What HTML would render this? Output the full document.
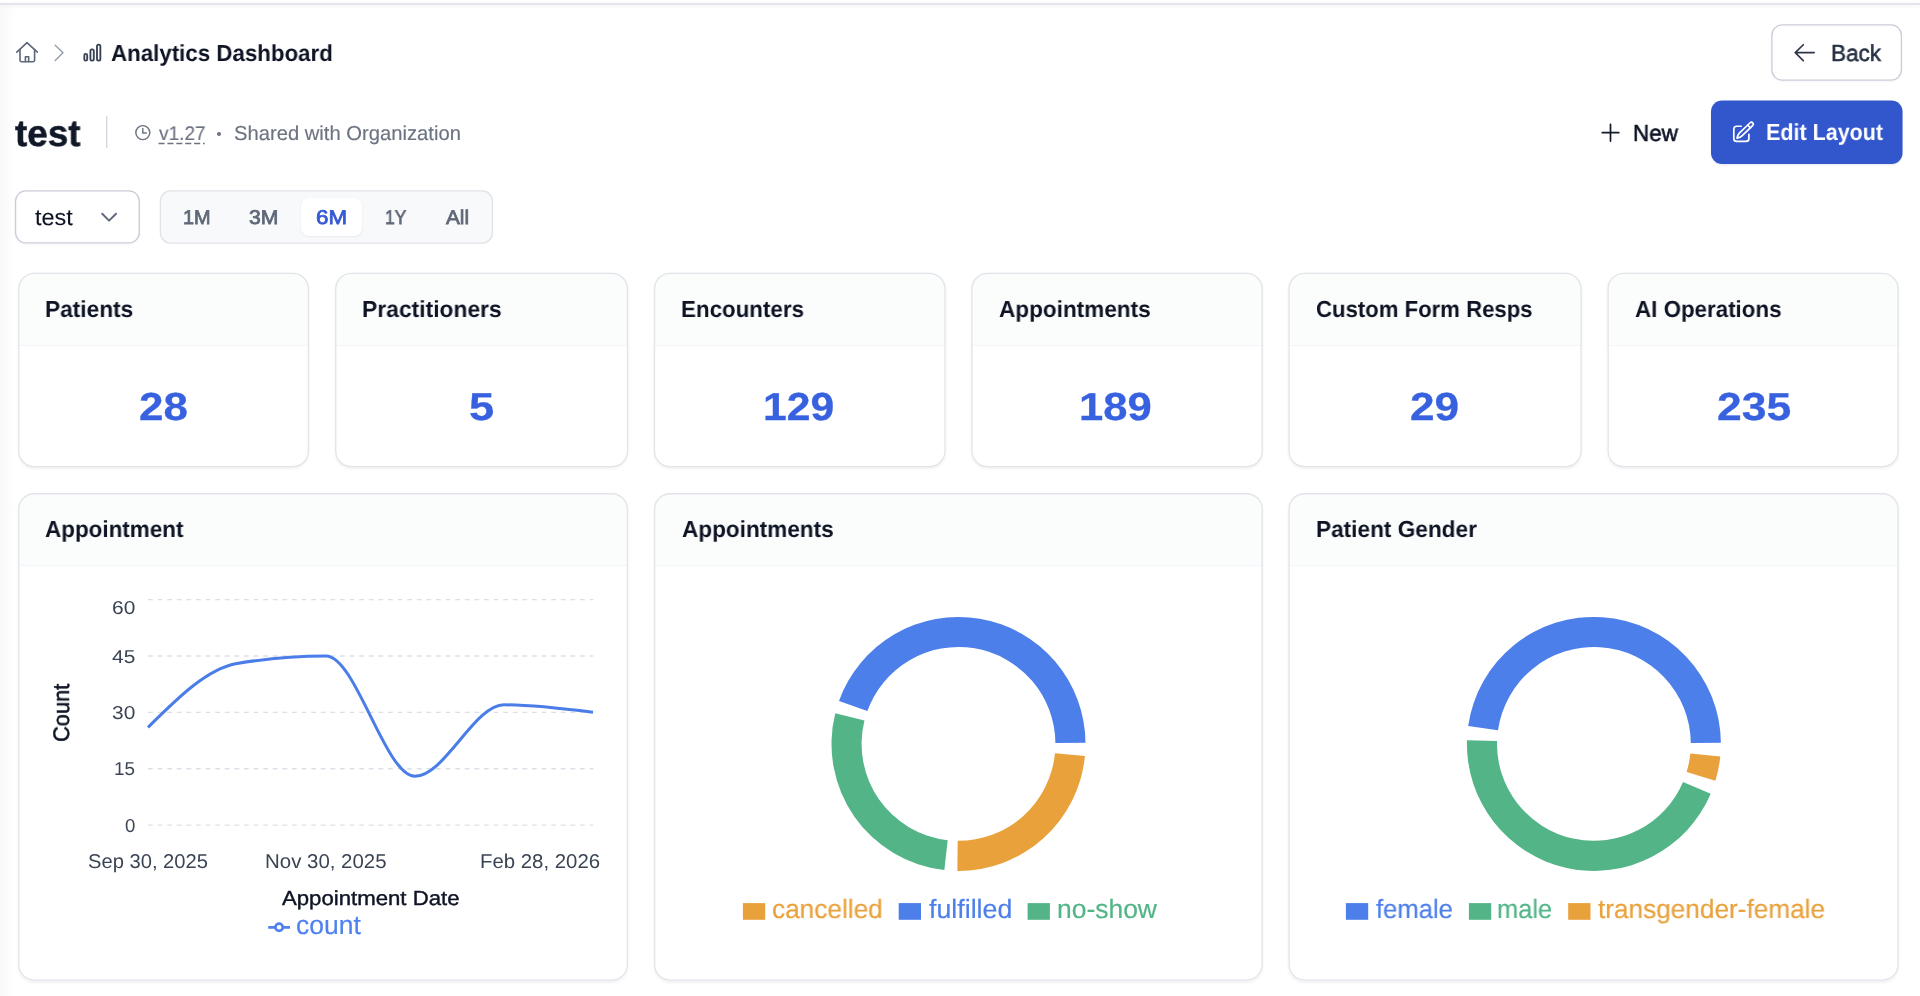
<!DOCTYPE html>
<html lang="en">
<head>
<meta charset="utf-8">
<title>Analytics Dashboard</title>
<style>
*{box-sizing:border-box}
html,body{margin:0;padding:0}
body{width:1920px;height:996px;position:relative;overflow:hidden;background:#fff;font-family:"Liberation Sans",sans-serif}
.topline{position:absolute;left:0;top:2.8px;width:1920px;height:2.1px;background:#e4e5eb;box-shadow:0 1px 4px rgba(15,23,42,.07)}
.leftshade{position:absolute;left:0;top:5px;width:16px;height:991px;background:linear-gradient(to right,rgba(0,0,0,.024),rgba(0,0,0,.014) 40%,rgba(0,0,0,0))}
.t{position:absolute;white-space:nowrap;line-height:1;transform-origin:0 0;display:block;margin:0;padding:0;z-index:3;will-change:transform;text-rendering:geometricPrecision}
.card{position:absolute;background:#fff;border-radius:16.3px;box-shadow:0 1.3px 2.7px rgba(15,23,42,.055);overflow:hidden}
.ch{height:73.2px;background:#fbfcfc;border-bottom:1.4px solid #f4f5f8}
.btn{border-radius:11px;background:#fff}
.back,.edit,.select,.seg{position:absolute}
.new{background:none}
.back{left:1771.2px;top:24.2px;width:130.9px;height:56.6px;box-shadow:0 1px 2px rgba(15,23,42,.04)}
.edit{left:1712px;top:101.6px;width:189.6px;height:61.6px;background:#3257cd;box-shadow:0 1.5px 2.5px rgba(15,23,42,.10)}
.select{left:14.9px;top:190.2px;width:125px;height:53.4px;box-shadow:0 1px 2px rgba(15,23,42,.04)}
.seg{left:159.75px;top:190.3px;width:333.35px;height:53.45px;background:#f8f9fb}
.pill{position:absolute;left:301px;top:197.8px;width:61px;height:38.1px;border-radius:8px;background:#fff;box-shadow:0 1px 2.5px rgba(15,23,42,.07)}
.dot{position:absolute;left:216.7px;top:131.9px;width:4.2px;height:4.2px;border-radius:50%;background:#6b7280}
svg.ov{position:absolute;left:0;top:0;width:1920px;height:996px;pointer-events:none}
</style>
</head>
<body>
<div class="topline"></div>
<div class="leftshade"></div>

<header>
  <nav aria-label="Breadcrumb"><span class="t" style="left:111.10px;top:41.60px;font-size:23.2px;font-weight:700;color:#0e1424;transform:scaleX(0.9617)">Analytics Dashboard</span></nav>
  <div class="btn back" role="button"><span class="t" style="left:59.35px;top:17.50px;font-size:23.1px;font-weight:400;color:#273043;-webkit-text-stroke:0.55px #273043;transform:scaleX(0.9735)">Back</span></div>
  <h1 class="t" style="left:14.65px;top:115.25px;font-size:37px;font-weight:700;color:#111827;-webkit-text-stroke:0.5px #111827;transform:scaleX(0.9942)">test</h1>
  <span class="t" style="left:158.82px;top:124.80px;font-size:19.8px;font-weight:400;color:#6b7280;-webkit-text-stroke:0.15px #6b7280;transform:scaleX(0.9601)">v1.27</span>
  <div class="dot"></div>
  <span class="t" style="left:234.07px;top:123.90px;font-size:20.2px;font-weight:400;color:#6b7280;-webkit-text-stroke:0.15px #6b7280;transform:scaleX(1.0009)">Shared with Organization</span>
  <div class="btn new" role="button"><span class="t" style="left:1633.33px;top:121.50px;font-size:23.1px;font-weight:400;color:#0e1424;-webkit-text-stroke:0.6px #0e1424;transform:scaleX(0.9710)">New</span></div>
  <div class="btn edit" role="button"><span class="t" style="left:53.88px;top:19.90px;font-size:23.3px;font-weight:700;color:#ffffff;transform:scaleX(0.9232)">Edit Layout</span></div>
  <div class="btn select" role="combobox"><span class="t" style="left:20.55px;top:16.50px;font-size:22.6px;font-weight:400;color:#0e1424;-webkit-text-stroke:0.1px #0e1424;transform:scaleX(1.0366)">test</span></div>
  <div class="btn seg" role="tablist"></div>
  <div class="pill"></div>
  <span class="t" style="left:183.12px;top:209.00px;font-size:19.9px;font-weight:400;color:#5f6878;-webkit-text-stroke:0.75px #5f6878;transform:scaleX(1.0015)">1M</span><span class="t" style="left:249.38px;top:209.00px;font-size:19.9px;font-weight:400;color:#5f6878;-webkit-text-stroke:0.75px #5f6878;transform:scaleX(1.0648)">3M</span><span class="t" style="left:315.75px;top:209.00px;font-size:19.9px;font-weight:400;color:#3659d4;-webkit-text-stroke:0.75px #3659d4;transform:scaleX(1.1232)">6M</span><span class="t" style="left:384.50px;top:209.00px;font-size:19.9px;font-weight:400;color:#5f6878;-webkit-text-stroke:0.75px #5f6878;transform:scaleX(0.8781)">1Y</span><span class="t" style="left:446.27px;top:209.00px;font-size:19.9px;font-weight:400;color:#5f6878;-webkit-text-stroke:0.75px #5f6878;transform:scaleX(1.0445)">All</span>
</header>

<main>
<article class="card stat" aria-label="Patients" style="left:18.09px;top:272.77px;width:291.02px;height:194.45px"><div class="ch"></div><h3 class="t" style="left:26.84px;top:25.53px;font-size:23.2px;font-weight:700;color:#0e1424;transform:scaleX(0.9784)">Patients</h3><span class="t" style="left:120.74px;top:115.53px;font-size:39px;font-weight:700;color:#3761df;-webkit-text-stroke:0.3px #3761df;transform:scaleX(1.1250)">28</span></article>
<article class="card stat" aria-label="Practitioners" style="left:335.08px;top:272.77px;width:293.08px;height:194.45px"><div class="ch"></div><h3 class="t" style="left:26.53px;top:25.53px;font-size:23.2px;font-weight:700;color:#0e1424;transform:scaleX(0.9860)">Practitioners</h3><span class="t" style="left:133.90px;top:115.53px;font-size:39px;font-weight:700;color:#3761df;-webkit-text-stroke:0.3px #3761df;transform:scaleX(1.1600)">5</span></article>
<article class="card stat" aria-label="Encounters" style="left:653.84px;top:272.77px;width:291.83px;height:194.45px"><div class="ch"></div><h3 class="t" style="left:26.80px;top:25.53px;font-size:23.2px;font-weight:700;color:#0e1424;transform:scaleX(0.9637)">Encounters</h3><span class="t" style="left:109.13px;top:115.53px;font-size:39px;font-weight:700;color:#3761df;-webkit-text-stroke:0.3px #3761df;transform:scaleX(1.0933)">129</span></article>
<article class="card stat" aria-label="Appointments" style="left:971.34px;top:272.77px;width:291.53px;height:194.45px"><div class="ch"></div><h3 class="t" style="left:27.37px;top:25.53px;font-size:23.2px;font-weight:700;color:#0e1424;transform:scaleX(0.9731)">Appointments</h3><span class="t" style="left:108.08px;top:115.53px;font-size:39px;font-weight:700;color:#3761df;-webkit-text-stroke:0.3px #3761df;transform:scaleX(1.1173)">189</span></article>
<article class="card stat" aria-label="Custom Form Resps" style="left:1288.39px;top:272.77px;width:293.33px;height:194.45px"><div class="ch"></div><h3 class="t" style="left:27.40px;top:25.53px;font-size:23.2px;font-weight:700;color:#0e1424;transform:scaleX(0.9550)">Custom Form Resps</h3><span class="t" style="left:121.62px;top:115.53px;font-size:39px;font-weight:700;color:#3761df;-webkit-text-stroke:0.3px #3761df;transform:scaleX(1.1322)">29</span></article>
<article class="card stat" aria-label="AI Operations" style="left:1607.43px;top:272.77px;width:291.33px;height:194.45px"><div class="ch"></div><h3 class="t" style="left:27.77px;top:25.53px;font-size:23.2px;font-weight:700;color:#0e1424;transform:scaleX(0.9634)">AI Operations</h3><span class="t" style="left:109.08px;top:115.53px;font-size:39px;font-weight:700;color:#3761df;-webkit-text-stroke:0.3px #3761df;transform:scaleX(1.1392)">235</span></article>
<article class="card chart" aria-label="Appointment" style="left:18.09px;top:493.08px;width:609.98px;height:487.64px"><div class="ch"></div><h3 class="t" style="left:27.41px;top:25.42px;font-size:23.2px;font-weight:700;color:#0e1424;transform:scaleX(0.9683)">Appointment</h3><span class="t" style="left:93.91px;top:105.81px;font-size:18.6px;font-weight:400;color:#3b4454;transform:scaleX(1.1258)">60</span><span class="t" style="left:93.91px;top:154.62px;font-size:18.6px;font-weight:400;color:#3b4454;transform:scaleX(1.1258)">45</span><span class="t" style="left:93.91px;top:211.02px;font-size:18.6px;font-weight:400;color:#3b4454;transform:scaleX(1.1258)">30</span><span class="t" style="left:96.20px;top:267.31px;font-size:18.6px;font-weight:400;color:#3b4454;transform:scaleX(1.0134)">15</span><span class="t" style="left:106.81px;top:323.71px;font-size:18.6px;font-weight:400;color:#3b4454;transform:scaleX(1.0000)">0</span><span class="t" style="left:70.01px;top:359.62px;font-size:19.9px;font-weight:400;color:#3b4454;transform:scaleX(1.0137)">Sep 30, 2025</span><span class="t" style="left:246.89px;top:359.62px;font-size:19.9px;font-weight:400;color:#3b4454;transform:scaleX(1.0276)">Nov 30, 2025</span><span class="t" style="left:462.09px;top:359.62px;font-size:19.9px;font-weight:400;color:#3b4454;transform:scaleX(1.0244)">Feb 28, 2026</span><span class="t" style="left:264.01px;top:395.52px;font-size:20.3px;font-weight:400;color:#0e1424;-webkit-text-stroke:0.4px #0e1424;transform:scaleX(1.0934)">Appointment Date</span><span class="t" style="left:278.41px;top:419.31px;font-size:26.4px;font-weight:400;color:#4f82f0;-webkit-text-stroke:0.2px #4f82f0;transform:scaleX(1.0043)">count</span><span class="t" style="left:50.82px;top:248.31px;font-size:22.6px;font-weight:400;color:#0e1424;-webkit-text-stroke:0.55px #0e1424;transform:rotate(-90deg) scaleX(0.9656) translate(-1.00px,-18.00px)">Count</span></article>
<article class="card chart" aria-label="Appointments" style="left:653.94px;top:493.08px;width:608.93px;height:487.64px"><div class="ch"></div><h3 class="t" style="left:27.66px;top:25.42px;font-size:23.2px;font-weight:700;color:#0e1424;transform:scaleX(0.9731)">Appointments</h3><span class="t" style="left:118.07px;top:402.62px;font-size:26.4px;font-weight:400;color:#e9a13b;-webkit-text-stroke:0.2px #e9a13b;transform:scaleX(0.9933)">cancelled</span><span class="t" style="left:274.87px;top:402.62px;font-size:26.4px;font-weight:400;color:#4c7fea;-webkit-text-stroke:0.2px #4c7fea;transform:scaleX(1.0140)">fulfilled</span><span class="t" style="left:402.76px;top:402.62px;font-size:26.4px;font-weight:400;color:#53b587;-webkit-text-stroke:0.2px #53b587;transform:scaleX(1.0021)">no-show</span></article>
<article class="card chart" aria-label="Patient Gender" style="left:1288.39px;top:493.08px;width:610.37px;height:487.64px"><div class="ch"></div><h3 class="t" style="left:27.23px;top:25.42px;font-size:23.2px;font-weight:700;color:#0e1424;transform:scaleX(0.9756)">Patient Gender</h3><span class="t" style="left:87.30px;top:402.62px;font-size:26.4px;font-weight:400;color:#4c7fea;-webkit-text-stroke:0.2px #4c7fea;transform:scaleX(0.9703)">female</span><span class="t" style="left:208.84px;top:402.62px;font-size:26.4px;font-weight:400;color:#53b587;-webkit-text-stroke:0.2px #53b587;transform:scaleX(0.9635)">male</span><span class="t" style="left:310.00px;top:402.62px;font-size:26.4px;font-weight:400;color:#e9a13b;-webkit-text-stroke:0.2px #e9a13b;transform:scaleX(0.9918)">transgender-female</span></article>
</main>

<svg class="ov" viewBox="0 0 1920 996" fill="none" stroke-linecap="round" stroke-linejoin="round">
  <!-- card + control borders -->
  <g stroke="#e2e4ea" stroke-width="1.33"><rect x="18.75" y="273.44" width="289.69" height="193.12" rx="15.6"/><rect x="335.75" y="273.44" width="291.75" height="193.12" rx="15.6"/><rect x="654.50" y="273.44" width="290.50" height="193.12" rx="15.6"/><rect x="972.00" y="273.44" width="290.20" height="193.12" rx="15.6"/><rect x="1289.06" y="273.44" width="292.00" height="193.12" rx="15.6"/><rect x="1608.10" y="273.44" width="290.00" height="193.12" rx="15.6"/><rect x="18.75" y="493.75" width="608.65" height="486.31" rx="15.6"/><rect x="654.60" y="493.75" width="607.60" height="486.31" rx="15.6"/><rect x="1289.06" y="493.75" width="609.04" height="486.31" rx="15.6"/></g>
  <g stroke-width="1.33">
    <rect x="1771.9" y="24.85" width="129.5" height="55.3" rx="10.4" stroke="#c9cdd8"/>
    <rect x="15.55" y="190.85" width="123.7" height="52.1" rx="10.4" stroke="#c9cdd8"/>
    <rect x="160.4" y="190.95" width="332.05" height="52.15" rx="10.4" stroke="#e1e3e9"/>
  </g>
  <rect x="1711" y="100.6" width="191.55" height="63.4" rx="11" fill="#3257cd" stroke="none"/>
  <!-- home icon -->
  <g stroke="#5d6678" stroke-width="1.6">
    <path d="M16.8,52.2L27,42.7L37.3,52.2"/>
    <path d="M20,49.6V60.1a1.6,1.6,0,0,0,1.6,1.6H33a1.6,1.6,0,0,0,1.6,-1.6V49.6"/>
    <path d="M25.4,61.5V56.7H28.7V61.5"/>
  </g>
  <!-- chevron -->
  <path d="M55.2,45.2L63,52.8L55.2,60.4" stroke="#949cad" stroke-width="1.4"/>
  <!-- bar chart icon -->
  <g stroke="#3a4355" stroke-width="1.85">
    <rect x="84.3" y="53.9" width="2.9" height="6.7" rx="1.45"/>
    <rect x="90.4" y="49.3" width="3.4" height="11.3" rx="1.6"/>
    <rect x="97" y="44.6" width="3.35" height="16" rx="1.6"/>
  </g>
  <!-- back arrow -->
  <path d="M1814.2,52.6H1795.2M1803.3,44.7L1795.2,52.6L1803.3,60.6" stroke="#2c3547" stroke-width="1.6"/>
  <!-- title divider + dashed underline -->
  <path d="M106.65,116.3V148.1" stroke="#d3d6de" stroke-width="1.4" stroke-linecap="butt"/>
  <path d="M158.5,143.55H204.7" stroke="#6b7280" stroke-width="1.4" stroke-dasharray="6.1 2.8" stroke-linecap="butt"/>
  <!-- clock -->
  <g stroke="#6b7280" stroke-width="1.45">
    <circle cx="142.8" cy="132.6" r="7"/>
    <path d="M142.8,128.4V132.9H146.3"/>
  </g>
  <!-- plus -->
  <path d="M1602.3,132.7H1618.8M1610.5,124.3V141.1" stroke="#111827" stroke-width="1.7"/>
  <!-- pencil/edit icon -->
  <g stroke="#fff" stroke-width="1.7">
    <path d="M1741.2,126.25H1736.8a3,3,0,0,0,-3,3V138.4a3,3,0,0,0,3,3H1745.9a3,3,0,0,0,3,-3V134.3"/>
    <path d="M1750.16,122.76L1739.56,132.96Q1737.8,134.7,1737,138.2Q1740.5,137.4,1742.24,135.64L1752.84,125.44A1.9,1.9,0,0,0,1750.16,122.76Z"/>
    <path d="M1747.76,125.16L1750.44,127.84"/>
  </g>
  <!-- select chevron -->
  <path d="M102.2,213.7L109.1,220.6L116,213.7" stroke="#5f6779" stroke-width="1.95"/>

  <!-- line chart -->
  <g stroke="#dddfe6" stroke-width="1.4" stroke-dasharray="4.8 4.8" stroke-linecap="butt"><line x1="148" x2="593.3" y1="825.10" y2="825.10"/><line x1="148" x2="593.3" y1="768.73" y2="768.73"/><line x1="148" x2="593.3" y1="712.35" y2="712.35"/><line x1="148" x2="593.3" y1="655.98" y2="655.98"/><line x1="148" x2="593.3" y1="599.60" y2="599.60"/></g>
  <path d="M148.00,727.38C177.67,697.94,207.33,668.50,237.00,663.49C266.67,658.48,296.33,655.98,326.00,655.98C355.67,655.98,385.33,776.24,415.00,776.24C444.67,776.24,474.33,704.83,504.00,704.83C533.67,704.83,563.33,708.59,593.00,712.35" stroke="#4a7de8" stroke-width="3" stroke-linecap="butt"/>
  <!-- legend line icon -->
  <g stroke="#4f82f0" stroke-width="2.7" stroke-linecap="butt">
    <path d="M268.2,927.3H275.5M282.8,927.3H290"/>
    <circle cx="279.1" cy="927.3" r="3.65"/>
  </g>
  <!-- donuts -->
  <g stroke="none"><path fill="#4c7fea" d="M1085.50,742.79A127.0,127.0,0,0,0,839.01,700.88L867.33,711.08A96.9,96.9,0,0,1,1055.40,743.05Z"/><path fill="#53b587" d="M835.27,713.18A127.0,127.0,0,0,0,944.34,870.11L947.70,840.20A96.9,96.9,0,0,1,864.48,720.46Z"/><path fill="#e9a13b" d="M957.39,870.90A127.0,127.0,0,0,0,1084.92,756.07L1054.95,753.19A96.9,96.9,0,0,1,957.65,840.80Z"/><path fill="#4c7fea" d="M1720.90,742.79A127.0,127.0,0,0,0,1468.17,726.01L1497.97,730.25A96.9,96.9,0,0,1,1690.80,743.05Z"/><path fill="#53b587" d="M1466.96,740.13A127.0,127.0,0,0,0,1710.72,793.73L1683.03,781.92A96.9,96.9,0,0,1,1497.04,741.03Z"/><path fill="#e9a13b" d="M1715.42,780.82A127.0,127.0,0,0,0,1720.27,756.51L1690.32,753.52A96.9,96.9,0,0,1,1686.62,772.07Z"/><rect x="742.9" y="903.1" width="22.3" height="16.7" fill="#e9a13b"/><rect x="898.7" y="903.1" width="22.3" height="16.7" fill="#4c7fea"/><rect x="1027.6" y="903.1" width="22.3" height="16.7" fill="#53b587"/><rect x="1345.9" y="903.1" width="22.3" height="16.7" fill="#4c7fea"/><rect x="1468.9" y="903.1" width="22.3" height="16.7" fill="#53b587"/><rect x="1568.2" y="903.1" width="22.3" height="16.7" fill="#e9a13b"/></g>
</svg>

</body>
</html>
